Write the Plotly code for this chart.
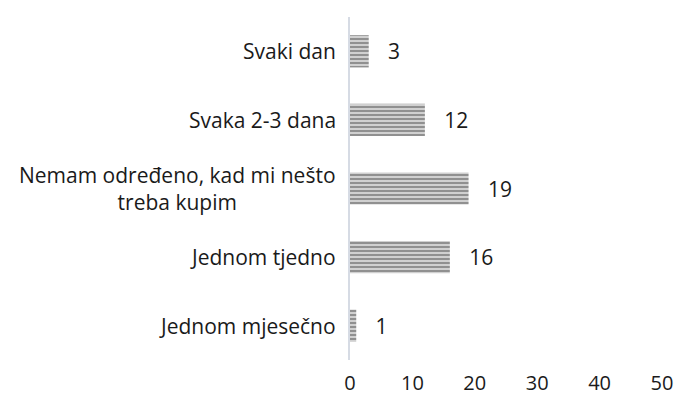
import plotly.graph_objects as go

categories = ["Jednom mjesečno", "Jednom tjedno",
              "Nemam određeno, kad mi nešto<br>treba kupim",
              "Svaka 2-3 dana", "Svaki dan"]
values = [1, 16, 19, 12, 3]
x_ticks = [0, 10, 20, 30, 40, 50]

fig = go.Figure(go.Bar(
    y=categories,
    x=values,
    orientation="h",
    width=0.47,
    marker=dict(
        color="#cfcfcf",
        line=dict(width=0),
        pattern=dict(shape="-", fgcolor="#505050", bgcolor="#d0d0d0",
                     size=4, solidity=0.5),
    ),
    text=values,
    texttemplate="   %{text}",
    textposition="outside",
    textfont=dict(size=21, color="#1a1a1a"),
    cliponaxis=False,
))

# Category labels as centred annotations so wrapped lines are centred
for cat in categories:
    fig.add_annotation(
        x=0, xref="paper", y=cat, yref="y",
        text=cat, showarrow=False,
        xanchor="right", yanchor="middle", align="center",
        xshift=-12,
        font=dict(size=21, color="#1a1a1a"),
    )

fig.update_layout(
    width=680, height=402,
    margin=dict(l=350, r=18, t=17, b=42, autoexpand=False),
    paper_bgcolor="white", plot_bgcolor="white",
    font=dict(family="Open Sans, Lato, sans-serif", size=21, color="#1a1a1a"),
    showlegend=False,
)
fig.update_xaxes(range=[0, 50], tickvals=x_ticks, showgrid=False,
                 zeroline=False, showline=False, ticks="", automargin=False,
                 tickfont=dict(size=20), ticklabelstandoff=9)
fig.update_yaxes(showgrid=False, zeroline=False, showline=True, automargin=False,
                 linecolor="#d6dbe4", linewidth=2, ticks="",
                 showticklabels=False)

fig.write_html("out.html")
